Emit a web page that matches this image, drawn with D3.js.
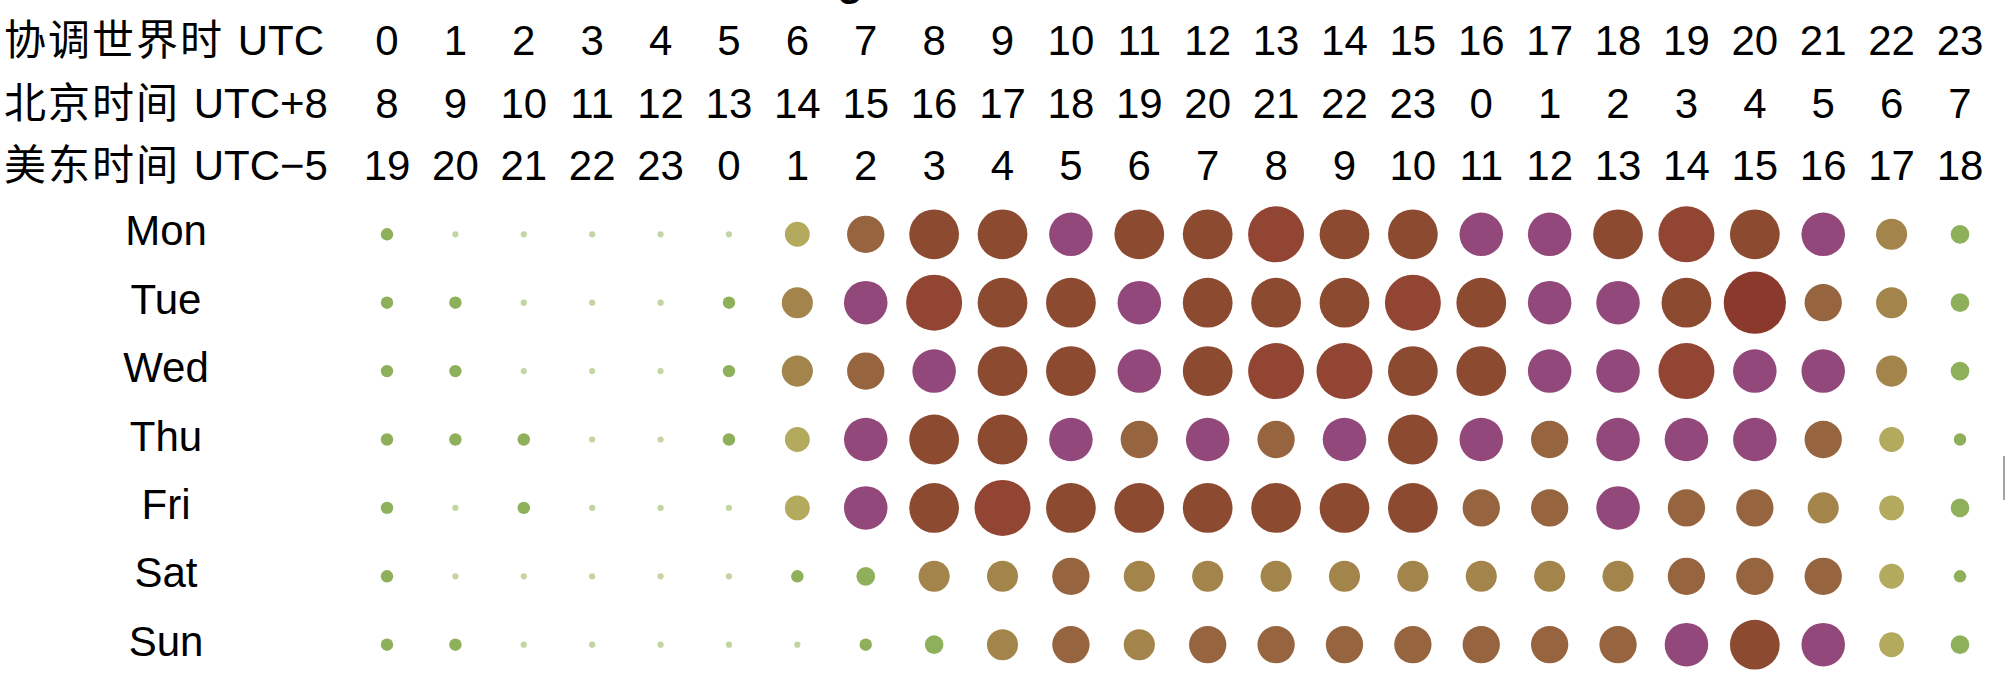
<!DOCTYPE html>
<html>
<head>
<meta charset="utf-8">
<script src="https://cdn.jsdelivr.net/npm/d3@7"></script>
<style>
  html, body { margin: 0; padding: 0; background: #fff; overflow: hidden; }
  text { font-family: "Liberation Sans", Arial, "Noto Sans CJK SC", sans-serif; fill: #000; }
</style>
</head>
<body>
<svg id="chart" width="2006" height="698"></svg>
<script>
// ---- data ----
const hoursUTC = [0,1,2,3,4,5,6,7,8,9,10,11,12,13,14,15,16,17,18,19,20,21,22,23];
const hoursBeijing = [8,9,10,11,12,13,14,15,16,17,18,19,20,21,22,23,0,1,2,3,4,5,6,7];
const hoursUSEast = [19,20,21,22,23,0,1,2,3,4,5,6,7,8,9,10,11,12,13,14,15,16,17,18];
const rowNames = ["协调世界时", "北京时间", "美东时间"];
const rowZones = ["UTC", "UTC+8", "UTC−5"];
const days = ["Mon","Tue","Wed","Thu","Fri","Sat","Sun"];
const mon = [2,1,1,1,1,1,4,6,8,8,7,8,8,9,8,8,7,7,8,9,8,7,5,3];
const tue = [2,2,1,1,1,2,5,7,9,8,8,7,8,8,8,9,8,7,7,8,10,6,5,3];
const wed = [2,2,1,1,1,2,5,6,7,8,8,7,8,9,9,8,8,7,7,9,7,7,5,3];
const thu = [2,2,2,1,1,2,4,7,8,8,7,6,7,6,7,8,7,6,7,7,7,6,4,2];
const fri = [2,1,2,1,1,1,4,7,8,9,8,8,8,8,8,8,6,6,7,6,6,5,4,3];
const sat = [2,1,1,1,1,1,2,3,5,5,6,5,5,5,5,5,5,5,5,6,6,6,4,2];
const sun = [2,2,1,1,1,1,1,2,3,5,6,5,6,6,6,6,6,6,6,7,8,7,4,3];
const levels = [1,2,3,4,5,6,7,8,9,10];
const levelColors = ["#c3d5a2","#8fb05a","#8fb05a","#b3aa5d","#a3854c","#96653f","#92487b","#8c4a31","#934533","#8b392c"];

const series = [mon, tue, wed, thu, fri, sat, sun];

// ---- layout ----
const svg = d3.select("#chart");
const fontSize = 42;

const x = d3.scaleLinear().domain([0, 23]).range([387, 1960]);
const y = d3.scalePoint().domain(days).range([234.3, 644.7]);
const r = d3.scaleLinear().domain([0, 10]).range([0, 31.1]);
const color = d3.scaleOrdinal().domain(levels).range(levelColors);

// cut-off title remnant at the very top
svg.append("text")
  .attr("x", 850).attr("y", -5)
  .attr("text-anchor", "middle")
  .attr("font-size", fontSize).attr("font-weight", "bold")
  .text("g");

// header rows
const headerRows = [hoursUTC, hoursBeijing, hoursUSEast];
const headerY = d3.scalePoint().domain([0,1,2]).range([55, 180]);

headerRows.forEach((vals, i) => {
  const t = svg.append("text")
    .attr("x", 4).attr("y", headerY(i))
    .attr("font-size", fontSize);
  t.append("tspan").attr("letter-spacing", 2).text(rowNames[i]);
  t.append("tspan").attr("dx", 2).text(" " + rowZones[i]);
  svg.append("g").selectAll("text")
    .data(vals)
    .join("text")
    .attr("x", (d, j) => x(j))
    .attr("y", headerY(i))
    .attr("text-anchor", "middle")
    .attr("font-size", fontSize)
    .text(d => d);
});

// day labels
svg.append("g").selectAll("text")
  .data(days)
  .join("text")
  .attr("x", 166)
  .attr("y", d => y(d) + 11)
  .attr("text-anchor", "middle")
  .attr("font-size", fontSize)
  .text(d => d);

// bubbles
const cells = [];
series.forEach((vals, i) => vals.forEach((v, j) => cells.push({day: days[i], hour: j, v})));
svg.append("g").selectAll("circle")
  .data(cells)
  .join("circle")
  .attr("cx", d => x(d.hour))
  .attr("cy", d => y(d.day))
  .attr("r", d => r(d.v))
  .attr("fill", d => color(d.v));

// thin grey edge mark at right border
svg.append("rect")
  .attr("x", 2003).attr("y", 456).attr("width", 2).attr("height", 44)
  .attr("fill", "#a0a4aa");
</script>
</body>
</html>
